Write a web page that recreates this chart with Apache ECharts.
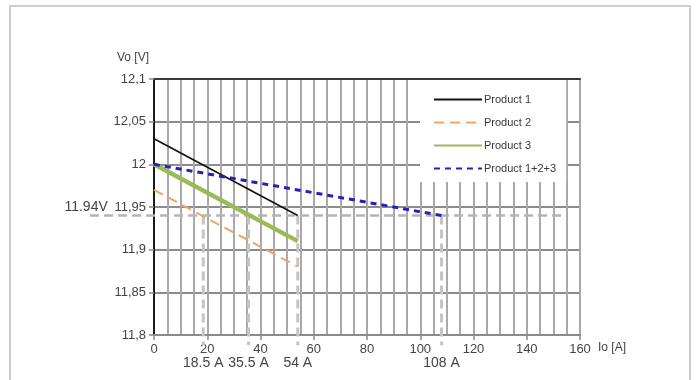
<!DOCTYPE html>
<html>
<head>
<meta charset="utf-8">
<script src="https://cdn.jsdelivr.net/npm/echarts@6/dist/echarts.min.js"></script>
<style>html,body{margin:0;padding:0;background:#fff}#c{width:696px;height:380px}</style>
</head>
<body>
<div id="c"></div>
<script>
// ---- data ----
const currentSingle = [0, 54];
const product1 = [12.03, 11.94];
const product2 = [11.97, 11.88];
const product3 = [12.00, 11.91];
const currentSum = [0, 108];
const productSum = [12.00, 11.94];
const seriesNames = ['Product 1', 'Product 2', 'Product 3', 'Product 1+2+3'];

const refVoltage = 11.94;
const refVoltageLabel = '11.94V';
const refHLineX = [-24, 154];
const refCurrents = [18.5, 35.5, 54, 108];
const refCurrentLabels = ['18.5 A', '35.5 A', '54 A', '108 A'];
const refVLineBottom = 11.788;

const xMin = 0, xMax = 160, xStep = 20;
const yMin = 11.8, yMax = 12.1, yStep = 0.05;

const font = 'Liberation Sans, Arial, sans-serif';

function pairs(xs, ys) { return xs.map((x, i) => [x, ys[i]]); }

const chart = echarts.init(document.getElementById('c'), null, { renderer: 'canvas' });

const series = [
  { name: seriesNames[0], type: 'line', data: pairs(currentSingle, product1), symbol: 'none', z: 5,
    lineStyle: { color: '#111', width: 1.6 }, itemStyle: { color: '#111' } },
  { name: seriesNames[1], type: 'line', data: pairs(currentSingle, product2), symbol: 'none', z: 5,
    lineStyle: { color: '#f4a460', width: 2, type: [10, 6] }, itemStyle: { color: '#f4a460' } },
  { name: seriesNames[2], type: 'line', data: pairs(currentSingle, product3), symbol: 'none', z: 5,
    lineStyle: { color: '#9bbb59', width: 4.5 }, itemStyle: { color: '#9bbb59' } },
  { name: seriesNames[3], type: 'line', data: pairs(currentSum, productSum), symbol: 'none', z: 6,
    lineStyle: { color: '#2222b8', width: 3, type: [6, 5] }, itemStyle: { color: '#2222b8' } }
];
refCurrents.forEach((c, i) => {
  series.push({
    name: 'refV' + i, type: 'line', clip: false, symbol: 'circle', symbolSize: 1, showSymbol: true,
    z: 3, silent: true,
    itemStyle: { color: 'rgba(0,0,0,0)' },
    data: [
      [c, refVoltage],
      { value: [c, refVLineBottom],
        label: { show: true, position: 'bottom', distance: 10, formatter: refCurrentLabels[i],
                 fontSize: 14, color: '#444', fontFamily: font } }
    ],
    lineStyle: { color: '#c4c4c4', width: 3, type: [9, 5] }
  });
});

chart.setOption({
  animation: false,
  backgroundColor: '#fff',
  textStyle: { fontFamily: font },
  grid: { left: 154, right: 116, top: 79, bottom: 45 },
  legend: {
    data: seriesNames,
    orient: 'vertical',
    left: 420, top: 80,
    backgroundColor: '#fff',
    padding: [14, 10, 8, 13],
    itemWidth: 48, itemHeight: 12, itemGap: 12,
    itemStyle: { opacity: 0 },
    textStyle: { fontSize: 11, color: '#383838', fontFamily: font, padding: [0, 0, 0, -3] },
    z: 10
  },
  xAxis: [{
    type: 'value', min: xMin, max: xMax, interval: xStep,
    name: 'Io [A]', nameLocation: 'end', nameGap: 18,
    nameTextStyle: { fontSize: 12, color: '#444', verticalAlign: 'top', padding: [7, 0, 0, 0] },
    axisLine: { show: true, lineStyle: { color: '#8a8a8a', width: 2 } },
    axisTick: { show: true, length: 5, lineStyle: { color: '#8a8a8a', width: 1.5 } },
    axisLabel: { fontSize: 13, color: '#444', margin: 8 },
    splitLine: { show: true, lineStyle: { color: '#a9a9a9', width: 2 } },
    minorTick: { show: false, splitNumber: 4 },
    minorSplitLine: { show: true, lineStyle: { color: '#a9a9a9', width: 2 } }
  }, {
    type: 'value', min: xMin, max: xMax, position: 'top',
    axisLine: { show: true, lineStyle: { color: '#3a3a3a', width: 2 } },
    axisTick: { show: false }, axisLabel: { show: false }, splitLine: { show: false }
  }],
  yAxis: [{
    type: 'value', min: yMin, max: yMax, interval: yStep,
    name: 'Vo [V]', nameLocation: 'end', nameGap: 15,
    nameTextStyle: { fontSize: 12, color: '#444', align: 'right', padding: [0, 5, 0, 0] },
    axisLine: { show: true, lineStyle: { color: '#8a8a8a', width: 2 } },
    axisTick: { show: true, length: 5, lineStyle: { color: '#8a8a8a', width: 1.5 } },
    axisLabel: { fontSize: 13, color: '#444', margin: 8,
      formatter: v => String(+(+v).toFixed(2)).replace('.', ',') },
    splitLine: { show: true, lineStyle: { color: '#8c8c8c', width: 2 } }
  }, {
    type: 'value', min: yMin, max: yMax, position: 'right',
    axisLine: { show: true, lineStyle: { color: '#1a1a1a', width: 2 } },
    axisTick: { show: false }, axisLabel: { show: false }, splitLine: { show: false }
  }],
  series: series
});

// Horizontal reference line at 11.94 V, positioned through the axis scales
// (extrapolated linearly past the axis start for the part left of the y axis).
const pA = chart.convertToPixel({ gridIndex: 0 }, [0, refVoltage]);
const pB = chart.convertToPixel({ gridIndex: 0 }, [xStep, refVoltage]);
const pxPerUnit = (pB[0] - pA[0]) / xStep;
const xLeft = pA[0] + refHLineX[0] * pxPerUnit;
const xRight = pA[0] + refHLineX[1] * pxPerUnit;
const yRef = pA[1];

chart.setOption({
  graphic: [
    { type: 'rect', shape: { x: 10, y: 6, width: 680, height: 390 }, silent: true, z: -10,
      style: { fill: 'none', stroke: '#cfcfcf', lineWidth: 2 } },
    { type: 'line', silent: true, z: 3,
      shape: { x1: xLeft, y1: yRef, x2: xRight, y2: yRef },
      style: { stroke: '#b4b4b4', lineWidth: 2.5, lineDash: [9, 5] } },
    { type: 'text', silent: true, z: 4,
      x: xLeft - 4, y: yRef - 1,
      style: { text: refVoltageLabel, fontSize: 14, fill: '#444', fontFamily: font,
               align: 'center', verticalAlign: 'bottom' } }
  ]
});
</script>
</body>
</html>
